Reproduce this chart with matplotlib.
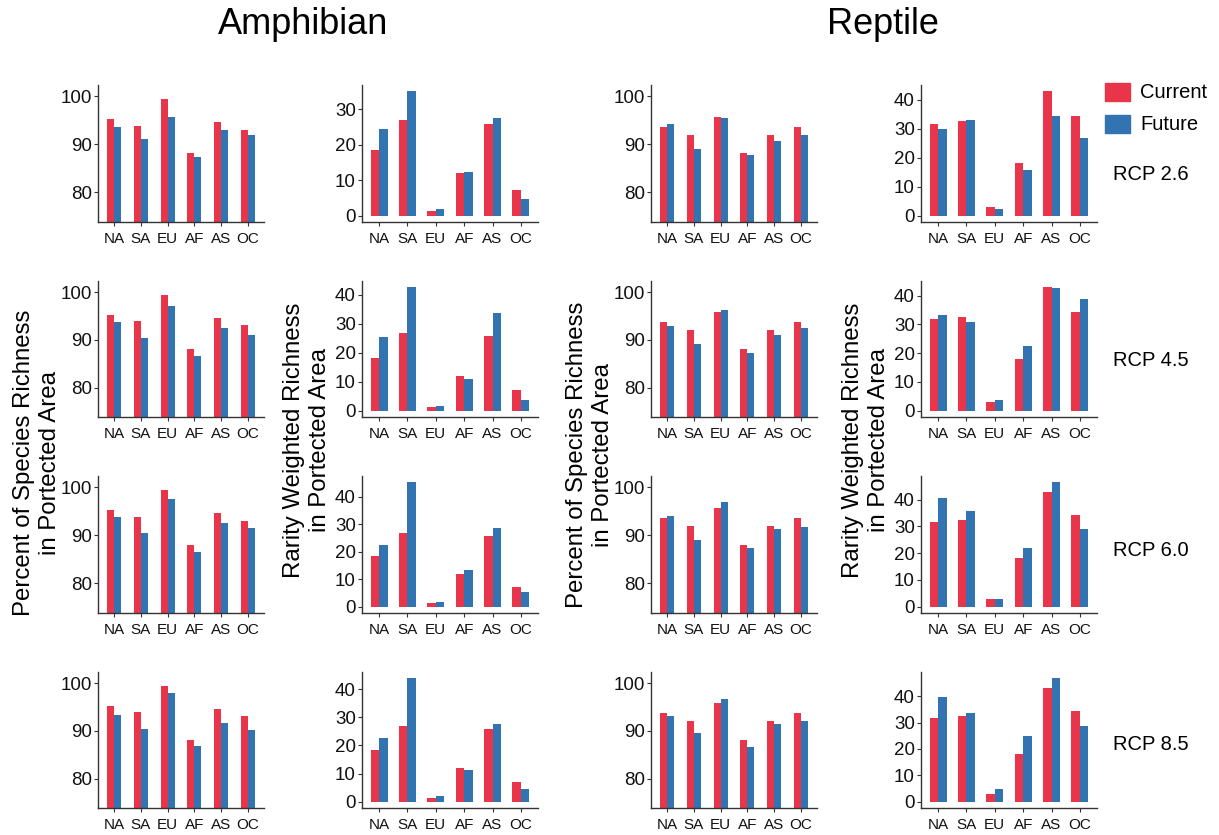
import matplotlib
matplotlib.use("Agg")
import matplotlib.pyplot as plt
import numpy as np
from matplotlib.patches import Rectangle

plt.rcParams["font.family"] = ["Liberation Sans", "DejaVu Sans"]

REGIONS = ["NA", "SA", "EU", "AF", "AS", "OC"]
SCENARIOS = ["RCP 2.6", "RCP 4.5", "RCP 6.0", "RCP 8.5"]
SERIES = ["Current", "Future"]

# percent of species richness in protected area (current is the same for every RCP)
AMPH_PCT_CURRENT = [95.2, 93.9, 99.5, 88.1, 94.7, 93.1]
AMPH_PCT_FUTURE = [
    [93.7, 91.2, 95.8, 87.3, 93.1, 92.0],
    [93.7, 90.5, 97.2, 86.7, 92.6, 91.1],
    [93.8, 90.4, 97.7, 86.5, 92.6, 91.5],
    [93.3, 90.4, 97.9, 86.8, 91.6, 90.1],
]
REPT_PCT_CURRENT = [93.7, 92.0, 95.8, 88.1, 92.0, 93.7]
REPT_PCT_FUTURE = [
    [94.2, 89.1, 95.6, 87.8, 90.8, 92.0],
    [93.0, 89.1, 96.2, 87.2, 91.0, 92.6],
    [94.1, 89.0, 97.0, 87.4, 91.4, 91.7],
    [93.1, 89.5, 96.8, 86.6, 91.4, 92.0],
]

# rarity weighted richness in protected area
AMPH_RW_CURRENT = [18.4, 26.9, 1.3, 11.9, 25.9, 7.2]
AMPH_RW_FUTURE = [
    [24.3, 35.0, 1.8, 12.2, 27.6, 4.6],
    [25.5, 42.7, 1.5, 11.1, 33.8, 3.6],
    [22.4, 45.3, 1.7, 13.3, 28.6, 5.3],
    [22.8, 43.9, 2.0, 11.2, 27.7, 4.5],
]
REPT_RW_CURRENT = [31.7, 32.5, 2.9, 18.1, 42.9, 34.3]
REPT_RW_FUTURE = [
    [29.8, 33.1, 2.2, 15.6, 34.3, 26.7],
    [33.1, 30.7, 3.9, 22.5, 42.7, 38.9],
    [40.5, 35.7, 2.9, 21.9, 46.5, 28.9],
    [39.6, 33.6, 4.8, 25.0, 46.8, 28.8],
]

RED = "#E8354A"
BLUE = "#3274B2"
AXIS_COL = "#333333"

W, H = 1219, 835
fig = plt.figure(figsize=(W / 100, H / 100), dpi=100)

# panel extents in pixels
COL_X = [(98, 264), (362, 538), (651, 817), (921, 1097)]
ROW_Y = [(85, 222), (281, 417), (476, 613), (672, 808)]


def px_rect(x0, x1, y0, y1):
    return [x0 / W, 1 - y1 / H, (x1 - x0) / W, (y1 - y0) / H]


def draw_panel(ax, cur, fut, kind):
    x = np.arange(1, len(REGIONS) + 1)
    width = 0.26 if kind == "pct" else 0.30
    ax.bar(x - width / 2, cur, width, color=RED, linewidth=0)
    ax.bar(x + width / 2, fut, width, color=BLUE, linewidth=0)
    ax.set_xlim(0.4, len(REGIONS) + 0.6)
    if kind == "pct":
        ax.set_ylim(73.8, 102.4)
        ax.set_yticks([80, 90, 100])
    else:
        top = max(max(cur), max(fut))
        ax.set_ylim(-0.05 * top, 1.05 * top)
        ax.set_yticks([t for t in range(0, 50, 10) if t <= top])
    ax.set_xticks(x)
    ax.set_xticklabels(REGIONS)
    for side in ("top", "right"):
        ax.spines[side].set_visible(False)
    for side in ("left", "bottom"):
        ax.spines[side].set_color(AXIS_COL)
        ax.spines[side].set_linewidth(1.0)
    ax.tick_params(axis="y", labelsize=13.5, length=3, width=0.8, color=AXIS_COL,
                   labelcolor="#111111", pad=1.5)
    ax.tick_params(axis="x", labelsize=11, length=3, width=0.8, color=AXIS_COL,
                   labelcolor="#111111", pad=4.5)
    ax.set_facecolor("white")


panels = [
    (AMPH_PCT_CURRENT, AMPH_PCT_FUTURE, "pct"),
    (AMPH_RW_CURRENT, AMPH_RW_FUTURE, "rw"),
    (REPT_PCT_CURRENT, REPT_PCT_FUTURE, "pct"),
    (REPT_RW_CURRENT, REPT_RW_FUTURE, "rw"),
]

for r, (y0, y1) in enumerate(ROW_Y):
    for c, (x0, x1) in enumerate(COL_X):
        cur, fut, kind = panels[c]
        ax = fig.add_axes(px_rect(x0, x1, y0, y1))
        draw_panel(ax, cur, fut[r], kind)

# group titles
fig.text(303 / W, 1 - 25 / H, "Amphibian", fontsize=26, ha="center", va="center")
fig.text(883 / W, 1 - 25 / H, "Reptile", fontsize=26, ha="center", va="center")

# shared y-axis titles
pct_label = "Percent of Species Richness\nin Portected Area"
rw_label = "Rarity Weighted Richness\nin Portected Area"
label_kw = dict(fontsize=17.3, rotation=90, ha="center", va="center",
                multialignment="center", linespacing=1.2)
fig.text(37 / W, 1 - 463 / H, pct_label, **label_kw)
fig.text(307 / W, 1 - 440 / H, rw_label, **label_kw)
fig.text(590 / W, 1 - 455 / H, pct_label, **label_kw)
fig.text(866 / W, 1 - 440 / H, rw_label, **label_kw)

# scenario labels
for lab, yc in zip(SCENARIOS, [175, 360, 550, 745]):
    fig.text(1113 / W, 1 - yc / H, lab, fontsize=14.5, ha="left", va="center")

# legend
for lab, col, yc in zip(SERIES, [RED, BLUE], [92, 124]):
    fig.patches.append(Rectangle((1105 / W, 1 - (yc + 9) / H), 25 / W, 18 / H,
                                 transform=fig.transFigure, color=col, figure=fig))
    fig.text(1140 / W, 1 - yc / H, lab, fontsize=14.5, ha="left", va="center")

fig.savefig("out.png", dpi=100, facecolor="white")
